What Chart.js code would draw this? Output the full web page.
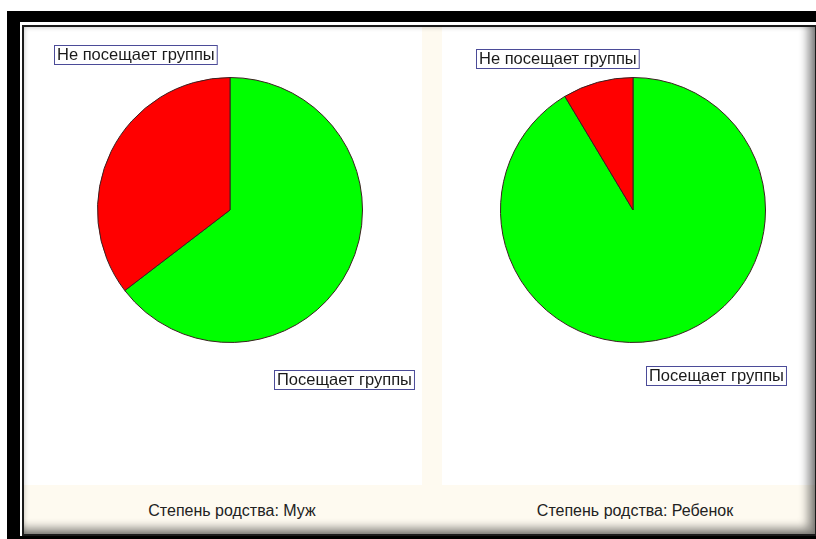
<!DOCTYPE html>
<html>
<head>
<meta charset="utf-8">
<script src="https://cdn.jsdelivr.net/npm/chart.js@4/dist/chart.umd.min.js"></script>
<style>
  html, body { margin: 0; padding: 0; width: 816px; height: 539px; overflow: hidden; background: #fff; }
  .abs { position: absolute; }
  #frame-black { left: 7px; top: 11px; width: 840px; height: 540px; background: #000; }
  #frame-gap { left: 20px; top: 22px; width: 830px; height: 514px; background: #fff; }
  #content {
    left: 22px; top: 25px; width: 791px; height: 507px;
    border: 2px solid #1a1a1a; background: #fefaf0; overflow: hidden;
  }
  #shade {
    left: 0; top: 0; width: 791px; height: 507px; pointer-events: none;
    box-shadow: inset 0 0 5px rgba(0,0,0,0.25), inset -10px -9px 10px -3px rgba(0,0,0,0.45);
  }
  .panel { background: #fff; }
  .caption {
    font-family: "Liberation Sans", Arial, sans-serif; font-size: 16px; color: #222;
    text-align: center; width: 400px;
  }
</style>
</head>
<body>
<div id="frame-black" class="abs"></div>
<div id="frame-gap" class="abs"></div>
<div id="content" class="abs">
  <div class="abs panel" style="left:0;top:0;width:398px;height:458px"></div>
  <div class="abs panel" style="left:418px;top:0;width:380px;height:458px"></div>
  <canvas id="chart-muzh" class="abs" style="left:0;top:0" width="398" height="458"></canvas>
  <canvas id="chart-rebenok" class="abs" style="left:418px;top:0" width="370" height="458"></canvas>
  <div id="cap-0" class="abs caption" style="left:8px;top:475px"></div>
  <div id="cap-1" class="abs caption" style="left:411px;top:475px"></div>
  <div id="shade" class="abs"></div>
</div>

<script>
// категории и значения (доли, %)
const categories = ['Посещает группы', 'Не посещает группы'];
const husbandValues = [64.6, 35.4];
const childValues = [91.4, 8.6];
const captions = ['Степень родства: Муж', 'Степень родства: Ребенок'];
const sliceColors = ['#00ff00', '#ff0000'];

document.getElementById('cap-0').textContent = captions[0];
document.getElementById('cap-1').textContent = captions[1];

// подписи секторов в рамочках
const boxLabels = {
  id: 'boxLabels',
  afterDraw(chart, args, opts) {
    const arc = chart.getDatasetMeta(0).data[0];
    if (!arc) return;
    const ctx = chart.ctx;
    ctx.save();
    ctx.font = '16.5px "Liberation Sans", Arial, sans-serif';
    ctx.textBaseline = 'middle';
    opts.items.forEach(it => {
      const text = chart.data.labels[it.index];
      const w = ctx.measureText(text).width + 5;
      const x = Math.round(arc.x + it.dx) + 0.5;
      const y = Math.round(arc.y + it.dy) + 0.5;
      ctx.fillStyle = '#ffffff';
      ctx.fillRect(x, y, w, 19);
      ctx.strokeStyle = '#4b4b98';
      ctx.lineWidth = 1;
      ctx.strokeRect(x, y, w, 19);
      ctx.fillStyle = '#1a1a1a';
      ctx.fillText(text, x + 2.5, y + 10);
    });
    ctx.restore();
  },
};

function makePie(id, values, padding, labelPos) {
  const ctx = document.getElementById(id).getContext('2d');
  return new Chart(ctx, {
    type: 'pie',
    data: {
      labels: categories,
      datasets: [{
        data: values,
        backgroundColor: sliceColors,
        borderColor: '#3a2020',
        borderWidth: 1,
      }],
    },
    options: {
      responsive: false,
      animation: false,
      devicePixelRatio: 1,
      layout: { padding },
      plugins: {
        legend: { display: false },
        tooltip: { enabled: false },
        boxLabels: { items: labelPos },
      },
    },
    plugins: [boxLabels],
  });
}

makePie('chart-muzh', husbandValues,
  { left: 73, right: 59, top: 50, bottom: 142 },
  [{ index: 1, dx: -176, dy: -165 }, { index: 0, dx: 44, dy: 160 }]);

makePie('chart-rebenok', childValues,
  { left: 58, right: 46, top: 50, bottom: 142 },
  [{ index: 1, dx: -157, dy: -161 }, { index: 0, dx: 13, dy: 156 }]);
</script>
</body>
</html>
